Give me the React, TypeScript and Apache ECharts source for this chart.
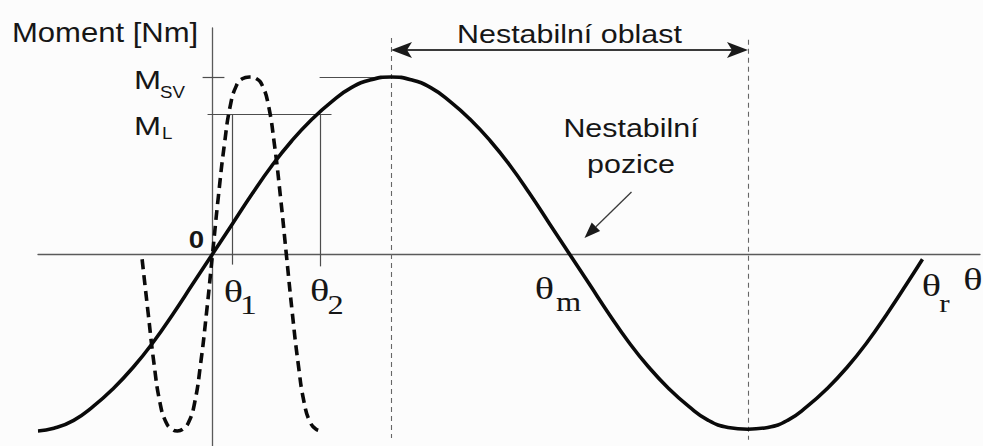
import React, { useEffect, useRef } from "react";
import * as echarts from "echarts";

// Load angle θ [deg] and synchronous motor torque (relative to the pull-out torque M_SV)
const motorAngle = [
  -88, -80, -70, -60, -50, -40, -30, -20, -10, 0, 10, 20, 30, 40, 50, 60, 70, 80, 90, 100, 110, 120, 130, 140, 150, 160,
  170, 180, 190, 200, 210, 220, 230, 240, 250, 260, 270, 280, 290, 300, 310, 320, 330, 340, 350, 358,
];
const motorTorque = [
  -1.0, -0.985, -0.94, -0.86, -0.76, -0.64, -0.5, -0.34, -0.17, 0, 0.17, 0.34, 0.5, 0.64, 0.76, 0.86, 0.94, 0.985, 1.0,
  0.985, 0.94, 0.86, 0.76, 0.64, 0.5, 0.34, 0.17, 0, -0.17, -0.34, -0.5, -0.64, -0.76, -0.86, -0.94, -0.98, -0.99, -0.98,
  -0.94, -0.86, -0.76, -0.64, -0.5, -0.34, -0.17, -0.03,
];

// Oscillating (dashed) torque curve around the origin
const swingAngle = [
  -35.5, -32.5, -29.5, -26.5, -23.5, -20.5, -17.7, -15, -12, -9, -6, -3, 0, 3, 6, 9, 12, 15, 18.6, 22.2, 25.2, 28.2,
  31.2, 34.2, 37.2, 40.2, 43.2, 46.2, 49.2, 52.2, 55.5,
];
const swingTorque = [
  -0.03, -0.33, -0.62, -0.84, -0.95, -0.99, -1.0, -0.99, -0.95, -0.84, -0.62, -0.33, 0, 0.33, 0.62, 0.84, 0.95, 0.99,
  1.0, 0.99, 0.95, 0.84, 0.62, 0.33, 0, -0.33, -0.62, -0.84, -0.95, -0.99, -1.0,
];

// Characteristic levels and angles
const M_SV = 1.0;
const M_L = 0.79;
const THETA_1 = 10;
const THETA_2 = 54.5;
const THETA_M = 180;
const THETA_R = 358;
const UNSTABLE_FROM = 90;
const UNSTABLE_TO = 270;

const X_MIN = -88;
const X_MAX = 387;
const Y_MIN = -1.085;
const Y_MAX = 1.277;

const SANS = '"Liberation Sans", Arial, sans-serif';
const SERIF = '"Liberation Serif", "Times New Roman", serif';
const INK = "#161616";
const GUIDE = "#4d4d4d";

function txt(
  text: string,
  x: number,
  y: number,
  size: number,
  opts: { family?: string; weight?: string; align?: string; scaleX?: number } = {}
) {
  const align = opts.align ?? "center";
  return {
    type: "text",
    x,
    y,
    scaleX: opts.scaleX ?? 1.17,
    silent: true,
    z: 20,
    style: {
      text,
      fill: INK,
      fontSize: size,
      fontFamily: opts.family ?? SANS,
      fontWeight: opts.weight ?? "normal",
      align,
      textAlign: align,
      verticalAlign: "middle",
      textVerticalAlign: "middle",
    },
  };
}

export default function App() {
  const ref = useRef<HTMLDivElement>(null);

  useEffect(() => {
    if (!ref.current) return;
    const chart = echarts.init(ref.current, null, { renderer: "svg" });

    const guide = (pts: [number, number][], dashed = false) => [
      {
        coord: pts[0],
        lineStyle: { color: dashed ? "#666" : GUIDE, width: dashed ? 1.1 : 1.2, type: dashed ? [5, 4] : "solid" },
      },
      { coord: pts[1] },
    ];

    chart.setOption({
      animation: false,
      backgroundColor: "#fcfcfc",
      grid: { left: 38, right: 3, top: 28, bottom: 0, containLabel: false },
      xAxis: {
        type: "value",
        min: X_MIN,
        max: X_MAX,
        axisLine: { show: true, onZero: true, lineStyle: { color: "#5a5a5a", width: 1.3 } },
        axisTick: { show: false },
        axisLabel: { show: false },
        splitLine: { show: false },
      },
      yAxis: {
        type: "value",
        min: Y_MIN,
        max: Y_MAX,
        axisLine: { show: true, onZero: true, lineStyle: { color: "#5a5a5a", width: 1.3 } },
        axisTick: { show: false },
        axisLabel: { show: false },
        splitLine: { show: false },
      },
      series: [
        {
          type: "line",
          data: motorAngle.map((a, i) => [a, motorTorque[i]]),
          smooth: true,
          symbol: "none",
          lineStyle: { color: "#0a0a0a", width: 3.6 },
          emphasis: { disabled: true },
          z: 5,
          markLine: {
            silent: true,
            symbol: ["none", "none"],
            label: { show: false },
            emphasis: { disabled: true },
            data: [
              guide([[-5, M_SV], [6, M_SV]]),
              guide([[54, M_SV], [UNSTABLE_FROM, M_SV]]),
              guide([[-2.5, M_L], [60, M_L]]),
              guide([[THETA_1, M_L], [THETA_1, -0.06]]),
              guide([[THETA_2, M_L], [THETA_2, -0.07]]),
              guide([[UNSTABLE_FROM, 1.22], [UNSTABLE_FROM, -1.04]], true),
              guide([[UNSTABLE_TO, 1.21], [UNSTABLE_TO, -1.05]], true),
            ],
          },
        },
        {
          type: "line",
          data: swingAngle.map((a, i) => [a, swingTorque[i]]),
          smooth: true,
          symbol: "none",
          lineStyle: { color: "#0a0a0a", width: 3.6, type: [10, 6], cap: "butt" },
          emphasis: { disabled: true },
          z: 6,
        },
      ],
    });

    const px = (x: number, y: number) => chart.convertToPixel({ gridIndex: 0 }, [x, y]) as number[];

    const yS = px(0, M_SV)[1];
    const yL = px(0, M_L)[1];
    const t1 = px(THETA_1, 0);
    const t2 = px(THETA_2, 0);
    const tm = px(THETA_M, 0);
    const tr = px(THETA_R, 0);
    const tEnd = px(X_MAX, 0);
    const o = px(0, 0);
    const uL = px(UNSTABLE_FROM, 0)[0];
    const uR = px(UNSTABLE_TO, 0)[0];
    const yArrow = 50;

    // Double-headed arrow marking the unstable region
    const head = (tipX: number, tipY: number, dir: number) => ({
      type: "polygon",
      silent: true,
      z: 20,
      shape: {
        points: [
          [tipX, tipY],
          [tipX + dir * 21, tipY - 8],
          [tipX + dir * 16, tipY],
          [tipX + dir * 21, tipY + 8],
        ],
      },
      style: { fill: "#1a1a1a" },
    });

    // Pointer to the unstable equilibrium θm
    const tip = [tm[0] + 15, tm[1] - 16];
    const tail = [tm[0] + 62, tm[1] - 62];
    const dx = tip[0] - tail[0];
    const dy = tip[1] - tail[1];
    const len = Math.hypot(dx, dy);
    const ux = dx / len;
    const uy = dy / len;
    const hl = 16;
    const hw = 6;
    const bx = tip[0] - ux * hl;
    const by = tip[1] - uy * hl;

    const sub = (s: string, x: number, y: number, size: number) =>
      txt(s, x, y, size, { family: SERIF, scaleX: 1.2 });
    const theta = (x: number, y: number) => txt("θ", x, y, 31, { family: SERIF, scaleX: 1.3 });

    chart.setOption({
      graphic: [
        txt("Moment [Nm]", 12, 33, 27, { align: "left", scaleX: 1.15 }),
        txt("0", o[0] - 16, o[1] - 14, 24, { weight: "bold", scaleX: 1.15 }),
        txt("M", 134, yS + 3, 25, { align: "left", scaleX: 1.3 }),
        txt("SV", 160, yS + 15, 17, { align: "left", scaleX: 1.1 }),
        txt("M", 134, yL + 12, 25, { align: "left", scaleX: 1.3 }),
        txt("L", 162, yL + 19, 17, { align: "left", scaleX: 1.1 }),
        theta(t1[0] + 1, t1[1] + 38),
        sub("1", t1[0] + 16, t1[1] + 51, 28),
        theta(t2[0] - 1, t2[1] + 37),
        sub("2", t2[0] + 15, t2[1] + 51, 27),
        theta(tm[0] - 25, tm[1] + 35),
        sub("m", tm[0] - 1, tm[1] + 48, 27),
        theta(tr[0] + 9, tr[1] + 32),
        sub("r", tr[0] + 22, tr[1] + 49, 26),
        theta(tEnd[0] - 7, tEnd[1] + 26),
        txt("Nestabilní oblast", (uL + uR) / 2, 34, 26),
        txt("Nestabilní", 631, 128, 26),
        txt("pozice", 631, 164, 26),
        {
          type: "line",
          silent: true,
          z: 19,
          shape: { x1: uL + 12, y1: yArrow, x2: uR - 12, y2: yArrow },
          style: { stroke: "#3a3a3a", lineWidth: 1.8 },
        },
        head(uL, yArrow, 1),
        head(uR, yArrow, -1),
        {
          type: "line",
          silent: true,
          z: 19,
          shape: { x1: tail[0], y1: tail[1], x2: bx, y2: by },
          style: { stroke: "#3a3a3a", lineWidth: 1.3 },
        },
        {
          type: "polygon",
          silent: true,
          z: 20,
          shape: {
            points: [
              tip,
              [bx - uy * hw, by + ux * hw],
              [bx + uy * hw, by - ux * hw],
            ],
          },
          style: { fill: "#1a1a1a" },
        },
      ],
    });

    return () => chart.dispose();
  }, []);

  return (
    <div
      ref={ref}
      style={{ position: "fixed", left: 0, top: 0, width: 983, height: 446 }}
    />
  );
}
